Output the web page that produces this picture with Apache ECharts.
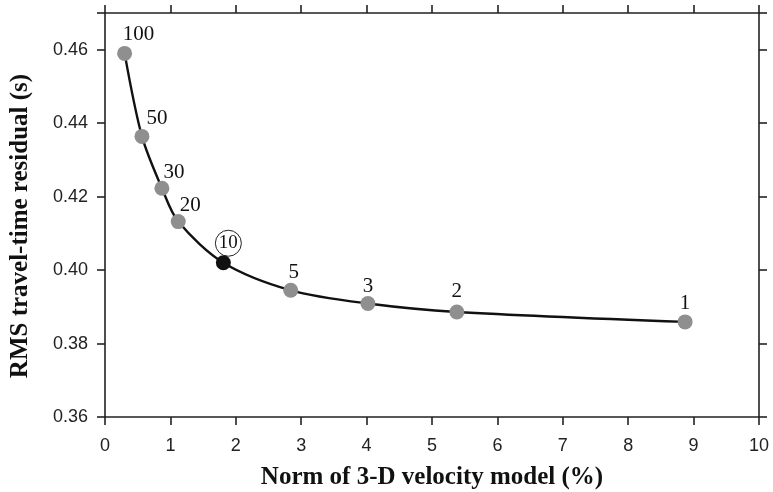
<!DOCTYPE html>
<html>
<head>
<meta charset="utf-8">
<script src="https://cdn.jsdelivr.net/npm/echarts@6/dist/echarts.min.js"></script>
<style>
  html, body { margin: 0; padding: 0; background: #fff; }
  #chart { width: 773px; height: 492px; }
</style>
</head>
<body>
<div id="chart"></div>
<script>
// damping values labelled on each point
var dampLabels = ['100', '50', '30', '20', '10', '5', '3', '2', '1']
// model norm (%)
var modelNorm = [0.30, 0.565, 0.87, 1.12, 1.81, 2.84, 4.02, 5.38, 8.87]
// RMS residual (s)
var rmsResidual = [0.4590, 0.4364, 0.4223, 0.4132, 0.4020, 0.3945, 0.3909, 0.3886, 0.3859]
var chosen = '10'

var labelOffsets = {
  '100': [14, 4], '50': [15, 5], '30': [12, 7], '20': [12, 7],
  '10': [5, 6], '5': [3, 5], '3': [0, 6], '2': [0, 3], '1': [0, 5]
}

var myChart = echarts.init(document.getElementById('chart'))

var points = modelNorm.map(function (x, i) {
  var name = dampLabels[i]
  var isChosen = name === chosen
  return {
    value: [x, rmsResidual[i]],
    name: name,
    itemStyle: { color: isChosen ? '#111' : '#8f8f8f' },
    label: {
      show: true,
      position: 'top',
      offset: labelOffsets[name],
      formatter: isChosen ? '{c|' + name + '}' : name,
      fontFamily: 'Liberation Serif',
      fontSize: 21,
      color: '#111',
      rich: {
        c: {
          fontFamily: 'Liberation Serif',
          fontSize: 19,
          color: '#111',
          width: 26,
          height: 26,
          lineHeight: 26,
          align: 'center',
          borderColor: '#222',
          borderWidth: 1,
          borderRadius: 13
        }
      }
    }
  }
})

var axisCommon = {
  axisLine: { show: true, onZero: false, lineStyle: { color: '#222', width: 1.6 } },
  axisTick: { show: true, inside: false, length: 8, lineStyle: { color: '#222', width: 1.6 } },
  splitLine: { show: false }
}

var option = {
  animation: false,
  grid: { left: 105, right: 14, top: 13, bottom: 75, outerBoundsMode: 'none', containLabel: false },
  xAxis: [
    Object.assign({
      type: 'value', min: 0, max: 10, interval: 1, position: 'bottom',
      name: 'Norm of 3-D velocity model (%)',
      nameLocation: 'middle', nameGap: 48,
      nameTextStyle: { fontFamily: 'Liberation Serif', fontWeight: 'bold', fontSize: 25, color: '#111' },
      axisLabel: { fontFamily: 'Liberation Sans', fontSize: 18, color: '#222', margin: 20 }
    }, axisCommon),
    Object.assign({
      type: 'value', min: 0, max: 10, interval: 1, position: 'top',
      axisLabel: { show: false }
    }, axisCommon)
  ],
  yAxis: [
    Object.assign({
      type: 'value', min: 0.36, max: 0.47, interval: 0.02, position: 'left',
      name: 'RMS travel-time residual (s)',
      nameLocation: 'middle', nameGap: 72, nameRotate: 90,
      nameTextStyle: {
        fontFamily: 'Liberation Serif', fontWeight: 'bold', fontSize: 25, color: '#111',
        padding: [0, 22, 0, 0]
      },
      axisLabel: {
        fontFamily: 'Liberation Sans', fontSize: 18, color: '#222', margin: 17,
        formatter: function (v) { return Math.abs(v - 0.47) < 1e-6 ? '' : v.toFixed(2) }
      }
    }, axisCommon),
    Object.assign({
      type: 'value', min: 0.36, max: 0.47, interval: 0.02, position: 'right',
      axisLabel: { show: false }
    }, axisCommon)
  ],
  series: [{
    type: 'line',
    data: points,
    smooth: 0.3,
    symbol: 'circle',
    symbolSize: 15,
    z: 3,
    lineStyle: { color: '#111', width: 2.4 }
  }]
}

myChart.setOption(option)
</script>
</body>
</html>
